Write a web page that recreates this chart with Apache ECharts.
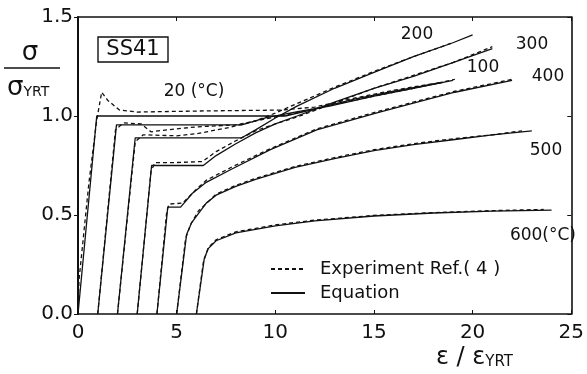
<!DOCTYPE html>
<html>
<head>
<meta charset="utf-8">
<script src="https://cdn.jsdelivr.net/npm/echarts@6/dist/echarts.min.js"></script>
<style>
html,body{margin:0;padding:0;background:#fff;}
#chart{width:587px;height:374px;}
</style>
</head>
<body>
<div id="chart"></div>
<script>
// ---- data (x = strain ratio, y = stress ratio) ----
const xTicks = [0, 5, 10, 15, 20, 25];
const yTicks = [0.0, 0.5, 1.0, 1.5];

const eq20  = [[0,0],[0.95,1.0],[10.5,1.0],[12,1.035],[14,1.085],[16,1.125],[18.5,1.17]];
const exp20 = [[0,0],[0.05,0.17],[0.55,0.66],[0.95,0.98],[1.2,1.12],[1.5,1.08],[2.1,1.03],[3,1.02],[6,1.025],[10.3,1.03],[12,1.045],[14,1.09],[16,1.13],[18.4,1.17]];

const eq100  = [[1,0],[1.95,0.955],[8.3,0.955],[9.5,0.99],[11,1.02],[12.75,1.05],[15,1.1],[17,1.14],[19,1.18]];
const exp100 = [[1,0],[1.9,0.93],[2.3,0.965],[3.2,0.96],[3.7,0.92],[4.5,0.93],[6,0.945],[8,0.955],[9.5,0.985],[11,1.015],[13,1.06],[15,1.1],[17,1.14],[19.1,1.185]];

const eq200  = [[2,0],[2.9,0.89],[8.3,0.89],[9,0.93],[10,0.99],[11.1,1.05],[13,1.14],[15,1.22],[17,1.3],[19,1.37],[20,1.41]];
const exp200 = [[2,0],[2.9,0.87],[3.3,0.905],[5,0.9],[6.1,0.912],[7.75,0.944],[9,0.975],[10,1.015],[11.5,1.08],[13,1.145],[15,1.225],[17,1.3],[19,1.37]];

const eq300  = [[3,0],[3.73,0.75],[6.35,0.75],[7,0.8],[8,0.86],[9,0.915],[10,0.96],[11.1,1.0],[13,1.07],[15,1.14],[17,1.2],[19,1.27],[21,1.34]];
const exp300 = [[3,0],[3.7,0.72],[3.9,0.765],[5,0.765],[6.3,0.77],[7,0.82],[8,0.875],[9,0.925],[10,0.96],[11.1,0.995],[13,1.065],[15,1.14],[17,1.205],[19,1.27],[21,1.35]];

const eq400  = [[4,0],[4.55,0.54],[5.2,0.54],[5.8,0.61],[6.5,0.665],[7.75,0.73],[9.75,0.83],[12.1,0.93],[15.1,1.015],[17,1.065],[19.1,1.12],[22,1.18]];
const exp400 = [[4,0],[4.5,0.52],[4.62,0.555],[5.3,0.56],[6,0.63],[6.5,0.675],[7.75,0.74],[9.75,0.835],[12.1,0.935],[15.1,1.02],[17,1.07],[19.1,1.125],[22,1.185]];

const eq500  = [[5,0],[5.5,0.4],[5.75,0.46],[6.5,0.56],[7,0.6],[8,0.645],[9,0.68],[11,0.74],[13,0.785],[15,0.825],[17,0.855],[19,0.88],[21,0.905],[23,0.925]];
const exp500 = [[5,0],[5.45,0.38],[5.7,0.45],[6.1,0.52],[7,0.605],[8,0.65],[9,0.685],[11,0.745],[13,0.79],[15,0.83],[17,0.86],[19,0.885],[21,0.905],[22.5,0.925]];

const eq600  = [[6,0],[6.4,0.28],[6.6,0.33],[7,0.37],[8,0.41],[10,0.445],[12,0.47],[15,0.495],[18,0.51],[21,0.52],[24,0.525]];
const exp600 = [[6,0],[6.35,0.26],[6.6,0.335],[7,0.375],[8,0.415],[10,0.45],[12,0.474],[15,0.498],[18,0.512],[21,0.522],[23.6,0.528]];

const tempLabels = ['20 (°C)', '100', '200', '300', '400', '500', '600(°C)'];
const expName = 'Experiment Ref.( 4 )';
const eqName = 'Equation';

// ---- chart ----
const FONT = 'DejaVu Sans';
const INK = '#111';

function eqSeries(d) {
  return {type:'line', name:eqName, data:d, symbol:'none', smooth:false,
    lineStyle:{color:INK, width:1.3, type:'solid'}, itemStyle:{color:INK}, z:3};
}
function expSeries(d) {
  return {type:'line', name:expName, data:d, symbol:'none', smooth:false,
    lineStyle:{color:INK, width:1.3, type:[4,3]}, itemStyle:{color:INK}, z:4};
}

const chart = echarts.init(document.getElementById('chart'), null, {renderer:'canvas'});
const option = {
  animation:false,
  backgroundColor:'#fff',
  grid:{left:78, right:9, top:17, bottom:60},
  legend:{
    orient:'vertical', left:265, top:255, itemWidth:34, itemHeight:12, itemGap:6,
    data:[expName, eqName],
    itemStyle:{opacity:0},
    textStyle:{fontFamily:FONT, fontSize:18, color:INK, padding:[0,0,0,10]},
    selectedMode:false
  },
  xAxis:[
    {type:'value', min:0, max:25, interval:5, position:'bottom',
     axisLine:{onZero:false, lineStyle:{color:INK, width:1.6}},
     axisTick:{inside:true, length:4, lineStyle:{color:INK}},
     axisLabel:{fontFamily:FONT, fontSize:20, color:INK, margin:9,
       formatter:v => xTicks.indexOf(v) >= 0 ? String(v) : ''},
     splitLine:{show:false}},
    {type:'value', min:0, max:25, interval:5, position:'top',
     axisLine:{onZero:false, lineStyle:{color:INK, width:1.6}},
     axisTick:{inside:true, length:4, lineStyle:{color:INK}},
     axisLabel:{show:false}, splitLine:{show:false}}
  ],
  yAxis:[
    {type:'value', min:0, max:1.5, interval:0.5, position:'left',
     axisLine:{onZero:false, lineStyle:{color:INK, width:2}},
     axisTick:{inside:false, length:4, lineStyle:{color:INK}},
     axisLabel:{fontFamily:FONT, fontSize:20, color:INK, margin:5,
       formatter:v => v.toFixed(1)},
     splitLine:{show:false}},
    {type:'value', min:0, max:1.5, interval:0.5, position:'right',
     axisLine:{onZero:false, lineStyle:{color:INK, width:1.6}},
     axisTick:{inside:true, length:4, lineStyle:{color:INK}},
     axisLabel:{show:false}, splitLine:{show:false}}
  ],
  series:[
    eqSeries(eq20), expSeries(exp20),
    eqSeries(eq100), expSeries(exp100),
    eqSeries(eq200), expSeries(exp200),
    eqSeries(eq300), expSeries(exp300),
    eqSeries(eq400), expSeries(exp400),
    eqSeries(eq500), expSeries(exp500),
    eqSeries(eq600), expSeries(exp600)
  ],
  graphic:[
    // y-axis title: sigma / sigma_YRT
    {type:'text', x:30, y:53, style:{text:'σ', fontFamily:FONT, fontSize:26, fill:INK, align:'center', verticalAlign:'middle'}},
    {type:'line', shape:{x1:4, y1:68, x2:60, y2:68}, style:{stroke:INK, lineWidth:1.4}},
    {type:'text', x:7, y:88, style:{text:'{a|σ}{b|YRT}', fill:INK, verticalAlign:'middle',
      rich:{a:{fontFamily:FONT, fontSize:26, fill:INK}, b:{fontFamily:FONT, fontSize:14, fill:INK, padding:[8,0,0,0]}}}},
    // x-axis title: epsilon / epsilon_YRT
    {type:'text', x:436, y:358, style:{text:'{a|ε / ε}{b|YRT}', fill:INK, verticalAlign:'middle',
      rich:{a:{fontFamily:FONT, fontSize:24, fill:INK}, b:{fontFamily:FONT, fontSize:15, fill:INK, padding:[8,0,0,0]}}}},
    // material box
    {type:'rect', shape:{x:98, y:37, width:70, height:25}, style:{fill:'none', stroke:INK, lineWidth:1.4}},
    {type:'text', x:133, y:50, style:{text:'SS41', fontFamily:FONT, fontSize:21, fill:INK, align:'center', verticalAlign:'middle'}},
    // temperature labels
    {type:'text', x:194, y:92, style:{text:tempLabels[0], fontFamily:FONT, fontSize:17, fill:INK, align:'center', verticalAlign:'middle'}},
    {type:'text', x:483, y:68, style:{text:tempLabels[1], fontFamily:FONT, fontSize:17, fill:INK, align:'center', verticalAlign:'middle'}},
    {type:'text', x:417, y:35, style:{text:tempLabels[2], fontFamily:FONT, fontSize:17, fill:INK, align:'center', verticalAlign:'middle'}},
    {type:'text', x:532, y:45, style:{text:tempLabels[3], fontFamily:FONT, fontSize:17, fill:INK, align:'center', verticalAlign:'middle'}},
    {type:'text', x:548, y:77, style:{text:tempLabels[4], fontFamily:FONT, fontSize:17, fill:INK, align:'center', verticalAlign:'middle'}},
    {type:'text', x:546, y:151, style:{text:tempLabels[5], fontFamily:FONT, fontSize:17, fill:INK, align:'center', verticalAlign:'middle'}},
    {type:'text', x:576, y:236, style:{text:tempLabels[6], fontFamily:FONT, fontSize:17, fill:INK, align:'right', verticalAlign:'middle'}}
  ]
};
chart.setOption(option);
</script>
</body>
</html>
